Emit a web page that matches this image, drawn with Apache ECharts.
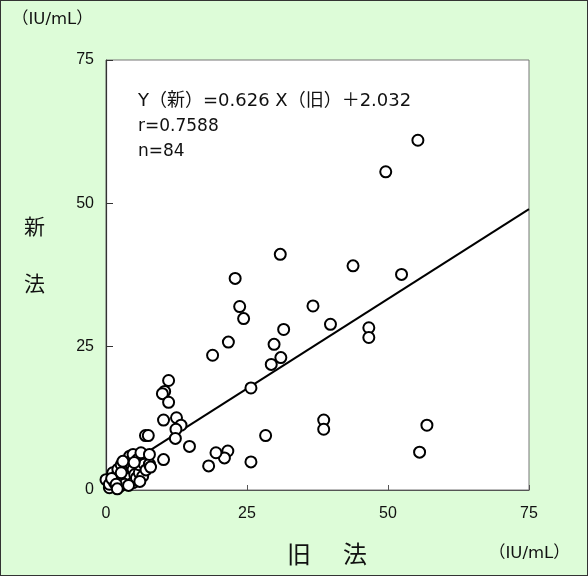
<!DOCTYPE html>
<html>
<head>
<meta charset="utf-8">
<script src="https://cdn.jsdelivr.net/npm/echarts@6/dist/echarts.min.js"></script>
<style>
  html, body { margin: 0; padding: 0; background: #ddfcd8; }
  #chart { width: 586px; height: 574px; border: 1px solid #333; }
</style>
</head>
<body>
<div id="chart"></div>
<script>
// Old method (X) vs new method (Y), IU/mL
const oldMethod = [
  55.3, 49.6, 43.8, 52.4, 46.6, 46.6, 56.9, 55.6, 38.6, 38.6,
  30.9, 22.9, 23.7, 24.4, 21.7, 36.7, 39.8, 31.5, 29.8, 31.0,
  29.3, 25.7, 28.3, 21.6, 21.0, 25.7, 19.5, 18.2, 18.9, 11.1,
  10.4, 10.0, 11.1, 10.2, 12.5, 13.3, 12.4, 12.3, 14.8, 7.0,
  7.5, 10.2, 0.0, 0.6, 0.6, 1.2, 1.5, 1.8, 2.1, 2.4,
  2.4, 2.7, 3.0, 3.3, 3.6, 3.6, 3.9, 4.2, 4.2, 4.5,
  4.8, 4.8, 4.8, 5.1, 5.4, 5.6, 5.9, 5.9, 6.2, 6.5,
  6.8, 7.1, 7.7, 7.7, 2.7, 1.0, 3.3, 4.0, 1.8, 3.0,
  5.0, 6.0, 2.0, 7.9
];
const newMethod = [
  61.0, 55.5, 39.1, 37.6, 28.3, 26.6, 11.3, 6.6, 12.2, 10.6,
  41.1, 36.9, 32.0, 29.9, 25.8, 32.1, 28.9, 28.0, 25.4, 23.1,
  21.9, 17.8, 9.5, 6.8, 5.6, 4.9, 6.5, 4.2, 23.5, 19.1,
  17.2, 16.8, 15.3, 12.2, 12.6, 11.3, 10.6, 9.0, 7.6, 9.5,
  9.5, 5.3, 1.8, 0.4, 1.0, 3.0, 1.3, 2.4, 3.6, 1.8,
  0.6, 4.4, 2.4, 2.7, 1.3, 5.0, 3.3, 2.1, 5.9, 4.2,
  1.3, 3.6, 6.2, 2.7, 2.1, 5.3, 3.0, 4.4, 6.5, 2.4,
  4.5, 3.5, 4.5, 6.2, 3.0, 2.0, 1.0, 0.8, 1.0, 5.0,
  4.8, 1.5, 0.2, 4.0
];

// Regression Y = slope * X + intercept
const slope = 0.626;
const intercept = 2.032;
const rValue = '0.7588';
const xRange = [0, 75];

const axisTicks = [0, 25, 50, 75];

const points = oldMethod.map((x, i) => [x, newMethod[i]]);
const fitLine = xRange.map(x => [x, slope * x + intercept]);

const latin = '"Liberation Sans", "Noto Sans CJK JP", sans-serif';
const wide = '"DejaVu Sans", "Noto Sans CJK JP", sans-serif';
const cjk = '"Noto Sans CJK JP", "Liberation Sans", sans-serif';
const ink = '#111';

const chart = echarts.init(document.getElementById('chart'));
chart.setOption({
  backgroundColor: '#ddfcd8',
  animation: false,
  grid: {
    left: 105, top: 59, width: 423, height: 430,
    show: true, backgroundColor: '#fff', borderColor: '#777', borderWidth: 1
  },
  xAxis: {
    type: 'value', min: axisTicks[0], max: axisTicks[3], interval: 25,
    axisLine: { show: true, onZero: false, lineStyle: { color: '#555', width: 1.2 } },
    axisTick: { show: true, inside: true, length: 5, lineStyle: { color: '#555' } },
    axisLabel: { margin: 16, fontSize: 16, color: ink, fontFamily: latin },
    splitLine: { show: false }
  },
  yAxis: {
    type: 'value', min: axisTicks[0], max: axisTicks[3], interval: 25,
    axisLine: { show: true, onZero: false, lineStyle: { color: '#333', width: 1.2 } },
    axisTick: { show: true, inside: true, length: 7, lineStyle: { color: '#333' } },
    axisLabel: { margin: 12, fontSize: 16, color: ink, fontFamily: latin },
    splitLine: { show: false }
  },
  series: [
    {
      type: 'line', data: fitLine, symbol: 'none', z: 1,
      lineStyle: { color: '#000', width: 2 }
    },
    {
      type: 'scatter', data: points, symbol: 'circle', symbolSize: 11, clip: false, z: 2,
      itemStyle: { color: '#fff', borderColor: '#000', borderWidth: 2, opacity: 1 }
    }
  ],
  graphic: [
    { type: 'text', left: 11, top: 10, style: { text: '（IU/mL）', font: '16.5px ' + wide, fill: ink } },
    { type: 'text', left: 488, top: 544, style: { text: '（IU/mL）', font: '16.5px ' + wide, fill: ink } },
    { type: 'text', left: 23, top: 215, style: { text: '新', font: '21px ' + cjk, fill: ink } },
    { type: 'text', left: 23, top: 272, style: { text: '法', font: '21px ' + cjk, fill: ink } },
    { type: 'text', left: 286, top: 541, style: { text: '旧', font: '24px ' + cjk, fill: ink } },
    { type: 'text', left: 342, top: 541, style: { text: '法', font: '24px ' + cjk, fill: ink } },
    { type: 'text', left: 137, top: 91, z: 10,
      style: { text: 'Y（新）=' + slope.toFixed(3) + ' X（旧）＋' + intercept.toFixed(3), font: '18px ' + wide, fill: ink } },
    { type: 'text', left: 137, top: 117, z: 10, style: { text: 'r=' + rValue, font: '17px ' + wide, fill: ink } },
    { type: 'text', left: 137, top: 142, z: 10, style: { text: 'n=' + points.length, font: '17px ' + wide, fill: ink } }
  ]
});
</script>
</body>
</html>
